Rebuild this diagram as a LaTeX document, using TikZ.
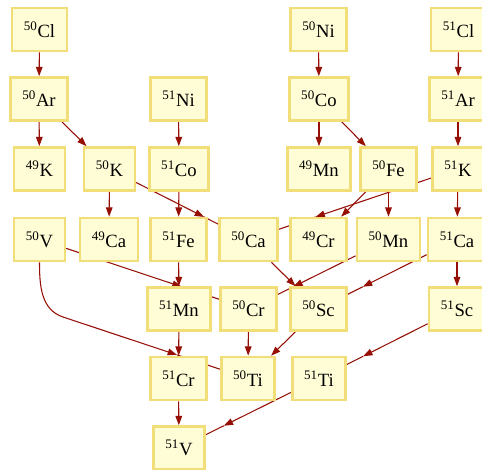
\documentclass[tikz,border=0pt]{standalone}
\usepackage{fontspec}
\setmainfont{Liberation Serif}
\usetikzlibrary{arrows.meta,calc,backgrounds}
\definecolor{boxfill}{RGB}{255,253,214}
\definecolor{boxline}{RGB}{242,222,120}
\definecolor{decay}{RGB}{150,15,5}
\newcommand{\nuc}[2]{\textsuperscript{#1}#2}

\begin{document}
\begin{tikzpicture}[x=0.75pt,y=0.75pt,>={Triangle[length=7pt,width=5pt]},
  iso/.style={draw=boxline,line width=2pt,fill=boxfill,inner xsep=8.8pt,inner ysep=0pt,
    minimum height=32.25pt,font=\fontsize{14}{16}\selectfont},
  edge/.style={decay,line width=0.8pt}]
  \useasboundingbox (0,0) rectangle (482,-470);
  \node[iso] (Cl50) at (39.5,-29.5) {\nuc{50}{Cl}};
  \node[iso] (Ni50) at (318.5,-29.5) {\nuc{50}{Ni}};
  \node[iso] (Cl51) at (458.5,-29.5) {\nuc{51}{Cl}};
  \node[iso] (Ar50) at (39,-99) {\nuc{50}{Ar}};
  \node[iso] (Ni51) at (178.5,-99) {\nuc{51}{Ni}};
  \node[iso] (Co50) at (319,-99) {\nuc{50}{Co}};
  \node[iso] (Ar51) at (458,-99) {\nuc{51}{Ar}};
  \node[iso] (K49) at (39.5,-169) {\nuc{49}{K}};
  \node[iso] (K50) at (109.5,-169) {\nuc{50}{K}};
  \node[iso] (Co51) at (179,-169) {\nuc{51}{Co}};
  \node[iso] (Mn49) at (319,-169) {\nuc{49}{Mn}};
  \node[iso] (Fe50) at (388.5,-169) {\nuc{50}{Fe}};
  \node[iso] (K51) at (458,-169) {\nuc{51}{K}};
  \node[iso] (V50) at (39.5,-239.5) {\nuc{50}{V}};
  \node[iso] (Ca49) at (109,-239.5) {\nuc{49}{Ca}};
  \node[iso] (Fe51) at (178.5,-239.5) {\nuc{51}{Fe}};
  \node[iso] (Ca50) at (248.5,-239.5) {\nuc{50}{Ca}};
  \node[iso] (Cr49) at (318.5,-239.5) {\nuc{49}{Cr}};
  \node[iso] (Mn50) at (388.5,-239.5) {\nuc{50}{Mn}};
  \node[iso] (Ca51) at (457,-239.5) {\nuc{51}{Ca}};
  \node[iso] (Mn51) at (179,-309) {\nuc{51}{Mn}};
  \node[iso] (Cr50) at (248.5,-309) {\nuc{50}{Cr}};
  \node[iso] (Sc50) at (318.5,-309) {\nuc{50}{Sc}};
  \node[iso] (Sc51) at (457,-309) {\nuc{51}{Sc}};
  \node[iso] (Cr51) at (178.5,-378.5) {\nuc{51}{Cr}};
  \node[iso] (Ti50) at (248,-378.5) {\nuc{50}{Ti}};
  \node[iso] (Ti51) at (319,-378.5) {\nuc{51}{Ti}};
  \node[iso] (V51) at (179,-448) {\nuc{51}{V}};
  \begin{scope}[on background layer]
    \draw[edge,->] (Cl50) -- (Ar50);
    \draw[edge,->] (Ar50) -- (K49);
    \draw[edge,->] (Ar50) -- (K50);
    \draw[edge,->] (Ni51) -- (Co51);
    \draw[edge,->] (Ni50) -- (Co50);
    \draw[edge,->] (Co50) -- (Mn49);
    \draw[edge,->] (Co50) -- (Fe50);
    \draw[edge,->] (Cl51) -- (Ar51);
    \draw[edge,->] (Ar51) -- (K51);
    \draw[edge,->] (K50) -- (Ca49);
    \draw[edge,->] (Co51) -- (Fe51);
    \draw[edge,->] (Fe50) -- (Cr49);
    \draw[edge,->] (Fe50) -- (Mn50);
    \draw[edge,->] (K51) -- (Ca51);
    \draw[edge,->] (Fe51) -- (Mn51);
    \draw[edge,->] (Ca50) -- (Sc50);
    \draw[edge,->] (Ca51) -- (Sc51);
    \draw[edge,->] (Mn51) -- (Cr51);
    \draw[edge,->] (Cr50) -- (Ti50);
    \draw[edge,->] (Sc50) -- (Ti50);
    \draw[edge,->] (Cr51) -- (V51);
    % long ones: head drawn part way, line runs on behind the boxes
    \coordinate (kca) at ($(K50)!0.68!(Ca50)$);
    \draw[edge,->] (K50) -- (kca);
    \draw[edge] (kca) -- (Ca50);
    \coordinate (kcb) at ($(K51)!0.68!(Ca50)$);
    \draw[edge,->] (K51) -- (kcb);
    \draw[edge] (kcb) -- (Ca50);
    \coordinate (vcr) at ($(V50)!0.68!(Cr50)$);
    \draw[edge,->] (V50) -- (vcr);
    \draw[edge] (vcr) -- (Cr50);
    \coordinate (mcr) at ($(Mn50)!0.68!(Cr50)$);
    \draw[edge,->] (Mn50) -- (mcr);
    \draw[edge] (mcr) -- (Cr50);
    \coordinate (csc) at ($(Ca51)!0.68!(Sc50)$);
    \draw[edge,->] (Ca51) -- (csc);
    \draw[edge] (csc) -- (Sc50);
    \coordinate (sti) at ($(Sc51)!0.68!(Ti51)$);
    \draw[edge,->] (Sc51) -- (sti);
    \draw[edge] (sti) -- (Ti51);
    \coordinate (tiv) at ($(Ti51)!0.68!(V51)$);
    \draw[edge,->] (Ti51) -- (tiv);
    \draw[edge] (tiv) -- (V51);
    \coordinate (vbend) at (63,-317);
    \coordinate (vti) at ($(vbend)!0.616!(Ti50)$);
    \draw[edge,->] (V50.south) to[out=-90,in=161.6] (vbend) -- (vti);
    \draw[edge] (vti) -- (Ti50);
  \end{scope}
\end{tikzpicture}
\end{document}
